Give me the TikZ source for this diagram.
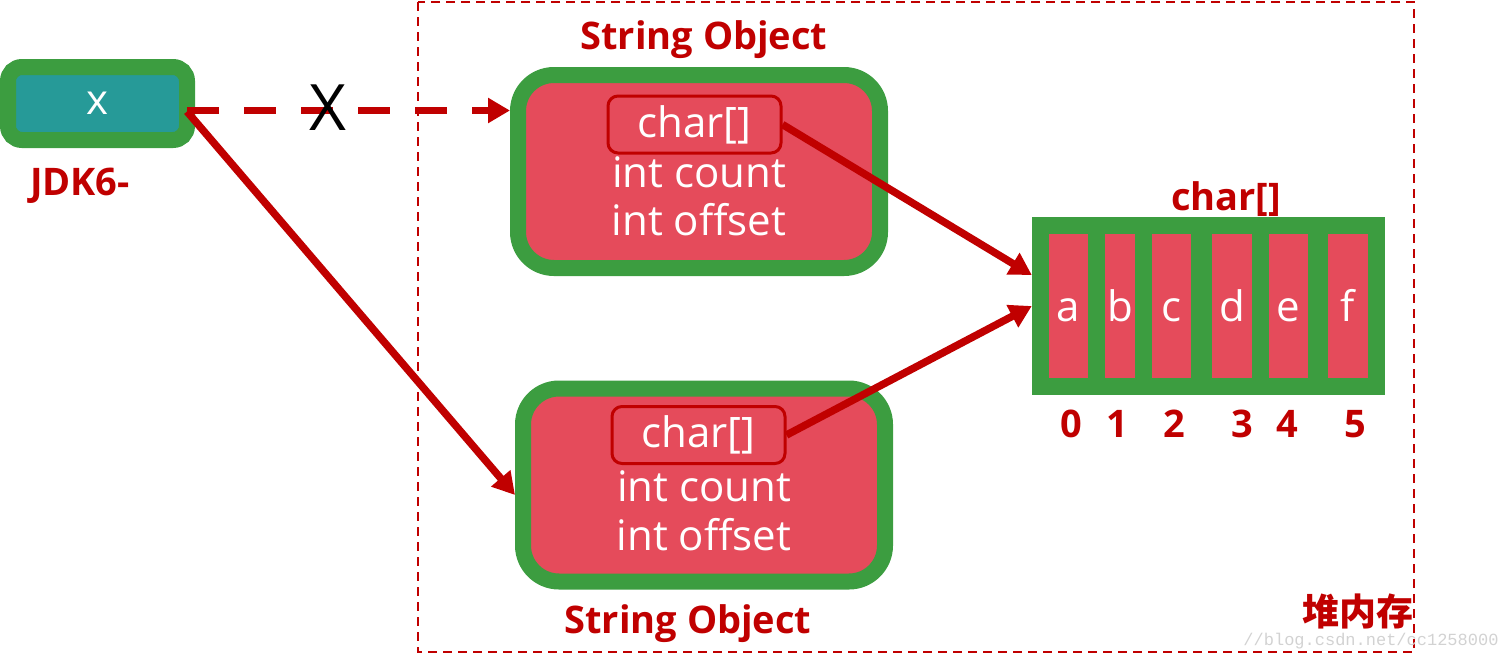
\documentclass[tikz,border=0pt]{standalone}
\usepackage{fontspec}
\setmainfont{Open Sans}
\newfontfamily\cjk{Noto Sans CJK SC}
\newfontfamily\wmfont{Liberation Mono}
\usepackage{tikz}
\usetikzlibrary{arrows.meta,positioning}
\definecolor{objgreen}{HTML}{3C9D40}
\definecolor{ptrteal}{HTML}{269A98}
\definecolor{cellred}{HTML}{E54B5B}
\definecolor{darkred}{HTML}{C00000}
\newcommand{\PG}[0]{objgreen}
\newcommand{\PR}[0]{cellred}
\newcommand{\PK}[0]{darkred}
\newcommand{\TXT}[0]{\fontsize{42}{50}\selectfont}
\newcommand{\LBL}[0]{\bfseries\fontsize{38}{46}\selectfont}

\tikzset{
  ref/.style={draw=\PK, line width=7.5pt, -{Triangle[length=22pt,width=24pt]}},
  ptrbox/.style={draw=\PG, fill=ptrteal, line width=16pt, rounded corners=14pt, outer sep=0pt,
    minimum width=179pt, minimum height=73pt, inner sep=0pt, text=white, font=\TXT},
  objbox/.style={draw=\PG, fill=\PR, line width=16pt, rounded corners=36pt,
    minimum width=362pt, minimum height=193pt},
  fieldbox/.style={draw=\PK, line width=3pt, rounded corners=10pt, minimum width=173pt,
    minimum height=57pt, inner sep=0pt, text=white, font=\TXT},
  field/.style={text=white, font=\TXT, inner sep=0pt},
  cell/.style={fill=\PR, minimum height=144pt, inner sep=0pt, text height=30pt, text depth=0pt,
    text=white, font=\TXT},
  redtag/.style={text=\PK, font=\LBL, inner sep=0pt},
}

\begin{document}
\begin{tikzpicture}[x=1pt, y=-1pt]

  \useasboundingbox (0,0) rectangle (1507,667);

  %% heap area
  \draw[\PK, line width=2pt, dash pattern=on 9pt off 6pt] (418,2) rectangle (1414,652);
  \node[text=gray!35, font=\wmfont\fontsize{17}{20}\selectfont] (wm) at (1371,641) {//blog.csdn.net/cc1258000};
  \node[redtag, font=\cjk\bfseries\fontsize{37}{44}\selectfont] (heap) at (1358,611) {堆内存};

  %% reference x
  \node[ptrbox] (x) at (97.5,103.5) {x};
  \node[redtag] (jdk) at (80,186) {JDK6-};

  %% String Object (top)
  \node[objbox] (obj1) at (699,171.5) {};
  \node[fieldbox] (arr1) at (694.5,124.5) {char[]};
  \node[field] (cnt1) at (699,172) {int count};
  \node[field] (off1) at (699,220) {int offset};
  \node[redtag] (lbl1) at (704,40) {String Object};

  %% String Object (bottom)
  \node[objbox] (obj2) at (704,485) {};
  \node[fieldbox] (arr2) at (698.5,435) {char[]};
  \node[field] (cnt2) at (704,486) {int count};
  \node[field] (off2) at (704,535) {int offset};
  \node[redtag] (lbl2) at (688,624) {String Object};

  %% char array
  \node[fill=\PG, minimum width=353pt, minimum height=178pt, inner sep=0pt] (chars) at (1208.5,306) {};
  \node[redtag] (ctitle) at (1226,199) {char[]};
  \node[cell, minimum width=39pt] (ca) at (1068.5,306) {a};
  \node[cell, minimum width=30pt] (cb) at (1120,306) {b};
  \node[cell, minimum width=39pt] (cc) at (1171.5,306) {c};
  \node[cell, minimum width=40pt] (cd) at (1232,306) {d};
  \node[cell, minimum width=39pt] (ce) at (1288.5,306) {e};
  \node[cell, minimum width=40pt] (cf) at (1348,306) {f};

  \node[redtag] (i0) at (1071,424) {0};
  \node[redtag] (i1) at (1117,424) {1};
  \node[redtag] (i2) at (1174,424) {2};
  \node[redtag] (i3) at (1242,424) {3};
  \node[redtag] (i4) at (1287,424) {4};
  \node[redtag] (i5) at (1355,424) {5};

  %% references
  \draw[ref, dash pattern=on 32pt off 25pt] ([yshift=-7pt]x.east) -- ([yshift=61pt]obj1.west); %% x - obj1
  \node[font=\fontsize{64}{72}\selectfont, inner sep=0pt] (cross) at (328,108) {X};
  \draw[ref] ([yshift=-8pt]x.east) -- ([yshift=-10pt]obj2.west); %% x - obj2
  \draw[ref] (arr1.east) -- ([yshift=31pt]chars.west); %% obj1 - chars
  \draw[ref] (arr2.east) -- (chars.west); %% obj2 - chars

\end{tikzpicture}
\end{document}
